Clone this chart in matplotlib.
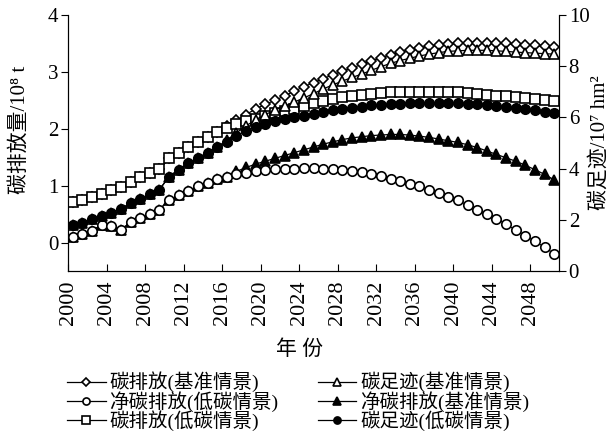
import numpy as np
import matplotlib
matplotlib.use('Agg')
import matplotlib.pyplot as plt

plt.rcParams['font.family'] = ['Liberation Serif', 'DejaVu Serif', 'Noto Sans CJK SC']

years = list(range(2000, 2051))

# 碳排放 (10^8 t)
emis_base = [0.71, 0.75, 0.80, 0.86, 0.92, 0.98, 1.07, 1.15, 1.23, 1.29,
             1.48, 1.58, 1.68, 1.77, 1.86, 1.95, 2.05, 2.15, 2.25, 2.35,
             2.43, 2.50, 2.58, 2.66, 2.74, 2.81, 2.88, 2.95, 3.01, 3.07,
             3.13, 3.19, 3.25, 3.30, 3.35, 3.39, 3.42, 3.45, 3.47, 3.49,
             3.50, 3.51, 3.51, 3.51, 3.51, 3.50, 3.49, 3.48, 3.47, 3.45, 3.43]
emis_low = [0.71, 0.75, 0.80, 0.86, 0.92, 0.98, 1.07, 1.15, 1.23, 1.29,
            1.48, 1.58, 1.68, 1.77, 1.86, 1.95, 2.02, 2.08, 2.13, 2.18,
            2.23, 2.27, 2.31, 2.35, 2.40, 2.45, 2.49, 2.52, 2.55, 2.57,
            2.59, 2.61, 2.63, 2.64, 2.64, 2.65, 2.65, 2.65, 2.65, 2.64,
            2.64, 2.63, 2.61, 2.60, 2.58, 2.57, 2.55, 2.54, 2.52, 2.50, 2.49]
# 净碳排放 (10^8 t)
net_low = [0.10, 0.15, 0.21, 0.31, 0.29, 0.22, 0.36, 0.43, 0.50, 0.58,
           0.75, 0.83, 0.91, 0.99, 1.05, 1.11, 1.16, 1.20, 1.23, 1.25,
           1.27, 1.29, 1.30, 1.30, 1.31, 1.31, 1.30, 1.29, 1.28, 1.26,
           1.24, 1.21, 1.17, 1.12, 1.08, 1.03, 0.99, 0.93, 0.87, 0.80,
           0.74, 0.66, 0.58, 0.50, 0.42, 0.32, 0.22, 0.12, 0.02, -0.08, -0.20]
net_base = [0.10, 0.15, 0.21, 0.31, 0.29, 0.22, 0.36, 0.43, 0.50, 0.58,
            0.75, 0.83, 0.91, 0.99, 1.05, 1.11, 1.16, 1.25, 1.32, 1.38,
            1.43, 1.48, 1.53, 1.58, 1.63, 1.68, 1.73, 1.77, 1.81, 1.84,
            1.86, 1.88, 1.89, 1.90, 1.90, 1.89, 1.87, 1.85, 1.82, 1.79,
            1.76, 1.72, 1.67, 1.61, 1.55, 1.49, 1.43, 1.36, 1.28, 1.20, 1.10]
# 碳足迹 (10^7 hm2)
foot_base = [1.80, 1.89, 2.02, 2.16, 2.27, 2.44, 2.64, 2.80, 3.02, 3.18,
             3.69, 3.96, 4.22, 4.42, 4.62, 4.84, 5.11, 5.40, 5.67, 5.91,
             6.11, 6.29, 6.44, 6.60, 6.76, 6.93, 7.11, 7.27, 7.42, 7.56,
             7.69, 7.84, 7.98, 8.11, 8.22, 8.31, 8.40, 8.47, 8.53, 8.58,
             8.60, 8.62, 8.62, 8.62, 8.60, 8.58, 8.55, 8.53, 8.51, 8.49, 8.47]
foot_low = [1.80, 1.89, 2.02, 2.16, 2.27, 2.44, 2.64, 2.80, 3.02, 3.18,
            3.69, 3.96, 4.22, 4.42, 4.62, 4.84, 5.04, 5.29, 5.47, 5.62,
            5.76, 5.84, 5.93, 6.00, 6.07, 6.13, 6.20, 6.27, 6.33, 6.38,
            6.42, 6.47, 6.49, 6.51, 6.53, 6.56, 6.56, 6.56, 6.56, 6.56,
            6.56, 6.53, 6.51, 6.47, 6.44, 6.40, 6.36, 6.31, 6.27, 6.22, 6.16]

fig = plt.figure(figsize=(6.12, 4.33), dpi=100)
ax = fig.add_axes([68 / 612, 1 - 271 / 433, 491 / 612, 256 / 433])
ax2 = ax.twinx()

x = np.arange(len(years))
common = dict(color='black', lw=0.9, ms=6.8, mew=1.2)

h_db, = ax.plot(x, emis_base, marker='D', mfc='white', label='碳排放(基准情景)',
                **dict(common, ms=5.4))
h_tb, = ax.plot(x, net_base, marker='^', mfc='black', label='净碳排放(基准情景)',
                **dict(common, ms=7.5))
h_cl, = ax.plot(x, net_low, marker='o', mfc='white', label='净碳排放(低碳情景)', **common)
h_sl, = ax.plot(x, emis_low, marker='s', mfc='white', label='碳排放(低碳情景)', **common)
h_tf, = ax2.plot(x, foot_base, marker='^', mfc='white', label='碳足迹(基准情景)',
                 **dict(common, ms=7.5))
h_fl, = ax2.plot(x, foot_low, marker='o', mfc='black', label='碳足迹(低碳情景)', **common)

ax.set_xlim(-0.5, len(years) - 0.5)
ax.set_ylim(-0.5, 4)
ax2.set_ylim(0, 10)
ax.set_yticks([0, 1, 2, 3, 4])
ax2.set_yticks([0, 2, 4, 6, 8, 10])
ax.set_xticks(x[::4] - 0.5)
ax.set_xticklabels([str(y) for y in years[::4]], rotation=90)

for a in (ax, ax2):
    a.spines['top'].set_visible(False)
ax.tick_params(axis='x', direction='in', length=5, labelsize=16, pad=7)
ax.tick_params(axis='y', direction='out', length=5, labelsize=15, pad=2)
ax2.tick_params(axis='y', direction='out', length=5, labelsize=15, pad=2)

ax.set_ylabel('碳排放量/10⁸ t', fontsize=15)
ax.yaxis.set_label_coords(-38 / 491, 0.55)
ax2.set_ylabel('碳足迹/10⁷ hm²', fontsize=15)
ax2.yaxis.set_label_coords(1 + 31 / 491, 0.5)
ax.set_xlabel('年 份', fontsize=15)
ax.xaxis.set_label_coords((300 - 68) / 491, -(340 - 271) / 256)

handles = [h_db, h_cl, h_sl, h_tf, h_tb, h_fl]
fig.legend(handles=handles, labels=[h.get_label() for h in handles], ncol=2,
           loc='upper left', bbox_to_anchor=(57 / 612, 1 - 362 / 433),
           frameon=False, fontsize=14, handlelength=2.0, handletextpad=0.2,
           columnspacing=2.0, labelspacing=-0.08, markerscale=0.75, borderpad=0)

fig.savefig('out.png', dpi=100)
